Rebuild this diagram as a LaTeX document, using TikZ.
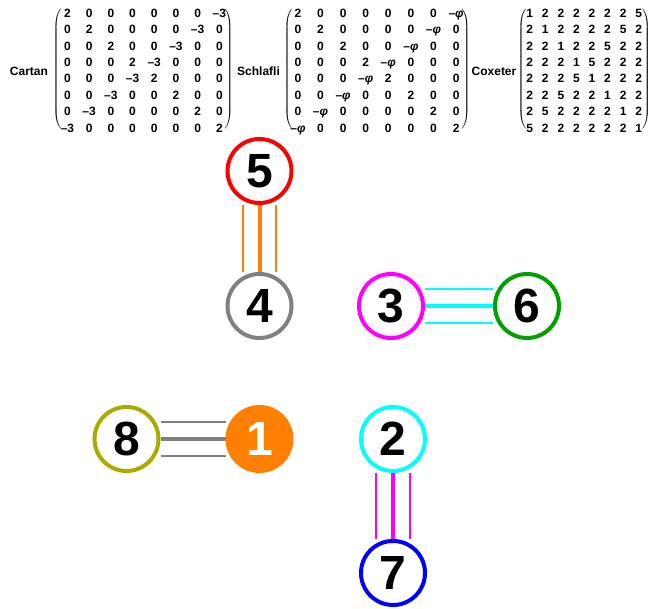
\documentclass[tikz,border=0pt]{standalone}
\usepackage{fontspec}
\setmainfont{Liberation Sans}
\usepackage{xcolor}
\usetikzlibrary{matrix}

\definecolor{nodeorange}{RGB}{255,128,0}
\definecolor{nodegrey}{RGB}{128,128,128}
\definecolor{nodegreen}{RGB}{0,160,0}
\definecolor{nodeolive}{RGB}{170,170,0}
\definecolor{nodecyan}{RGB}{0,255,255}
\definecolor{nodemagenta}{RGB}{255,0,255}
\definecolor{nodered}{RGB}{255,0,0}
\definecolor{nodeblue}{RGB}{0,0,255}

\newcommand{\lparen}{$\nulldelimiterspace=0pt\left(\vcenter{\hrule height 124pt width 0pt}\right.$}
\newcommand{\rparen}{$\nulldelimiterspace=0pt\left.\vcenter{\hrule height 124pt width 0pt}\right)$}

\tikzset{
  vertex/.style={draw, circle, line width=4pt, minimum size=64pt, inner sep=0pt, fill=white,
    font=\fontsize{48}{48}\selectfont\bfseries},
  bondthick/.style={line width=4pt},
  bondthin/.style={line width=1.8pt},
  dynmat/.style={matrix of nodes, inner sep=0pt, row sep=0pt, column sep=0pt,
    nodes={minimum height=16.4pt, inner sep=0pt, text height=8.6pt, text depth=0pt,
      font=\fontsize{12}{12}\selectfont\bfseries}},
  matlabel/.style={font=\fontsize{12}{12}\selectfont\bfseries, inner sep=0pt},
  bigparen/.style={inner sep=0pt, outer sep=0pt},
}

\begin{document}
\begin{tikzpicture}[x=1pt, y=1pt]
\useasboundingbox (0,0) rectangle (648,609);

% the three matrices
\node[matlabel] (cartanlabel) at (29,538) {Cartan};
\node[bigparen] (cartanl) at (57,539.5) {\lparen};
\matrix (cartan) [dynmat, nodes={minimum width=21.7pt}] at (143.4,538.5) {
2 & 0 & 0 & 0 & 0 & 0 & 0 & –3 \\
0 & 2 & 0 & 0 & 0 & 0 & –3 & 0 \\
0 & 0 & 2 & 0 & 0 & –3 & 0 & 0 \\
0 & 0 & 0 & 2 & –3 & 0 & 0 & 0 \\
0 & 0 & 0 & –3 & 2 & 0 & 0 & 0 \\
0 & 0 & –3 & 0 & 0 & 2 & 0 & 0 \\
0 & –3 & 0 & 0 & 0 & 0 & 2 & 0 \\
–3 & 0 & 0 & 0 & 0 & 0 & 0 & 2 \\
};
\node[bigparen] (cartanr) at (229,539.5) {\rparen};

\node[matlabel] (schlaflilabel) at (258.5,538) {Schlafli};
\node[bigparen] (schlaflil) at (288,539.5) {\lparen};
\matrix (schlafli) [dynmat, nodes={minimum width=22.6pt}] at (377,538.5) {
2 & 0 & 0 & 0 & 0 & 0 & 0 & –\textit{φ} \\
0 & 2 & 0 & 0 & 0 & 0 & –\textit{φ} & 0 \\
0 & 0 & 2 & 0 & 0 & –\textit{φ} & 0 & 0 \\
0 & 0 & 0 & 2 & –\textit{φ} & 0 & 0 & 0 \\
0 & 0 & 0 & –\textit{φ} & 2 & 0 & 0 & 0 \\
0 & 0 & –\textit{φ} & 0 & 0 & 2 & 0 & 0 \\
0 & –\textit{φ} & 0 & 0 & 0 & 0 & 2 & 0 \\
–\textit{φ} & 0 & 0 & 0 & 0 & 0 & 0 & 2 \\
};
\node[bigparen] (schlaflir) at (466,539.5) {\rparen};

\node[matlabel] (coxeterlabel) at (494,538) {Coxeter};
\node[bigparen] (coxeterl) at (522,539.5) {\lparen};
\matrix (coxeter) [dynmat, nodes={minimum width=15.57pt}] at (584.2,538.5) {
1 & 2 & 2 & 2 & 2 & 2 & 2 & 5 \\
2 & 1 & 2 & 2 & 2 & 2 & 5 & 2 \\
2 & 2 & 1 & 2 & 2 & 5 & 2 & 2 \\
2 & 2 & 2 & 1 & 5 & 2 & 2 & 2 \\
2 & 2 & 2 & 5 & 1 & 2 & 2 & 2 \\
2 & 2 & 5 & 2 & 2 & 1 & 2 & 2 \\
2 & 5 & 2 & 2 & 2 & 2 & 1 & 2 \\
5 & 2 & 2 & 2 & 2 & 2 & 2 & 1 \\
};
\node[bigparen] (coxeterr) at (646.5,539.5) {\rparen};

% the diagram
\node[vertex, draw=nodered] (v5) at (259.5,438) {5};
\node[vertex, draw=nodegrey] (v4) at (259.5,303) {4};
\node[vertex, draw=nodemagenta] (v3) at (391,303) {3};
\node[vertex, draw=nodegreen] (v6) at (527,303) {6};
\node[vertex, draw=nodeolive] (v8) at (126.5,170) {8};
\node[vertex, draw=nodeorange, fill=nodeorange, text=white] (v1) at (259.5,170) {1};
\node[vertex, draw=nodecyan] (v2) at (393,170) {2};
\node[vertex, draw=nodeblue] (v7) at (393,36) {7};

\draw[nodeorange, bondthick] (v5.south) -- (v4.north);
\draw[nodeorange, bondthin] ([xshift=-16.7pt]v5.south) -- ([xshift=-16.7pt]v4.north);
\draw[nodeorange, bondthin] ([xshift=16.7pt]v5.south) -- ([xshift=16.7pt]v4.north);

\draw[nodecyan, bondthick] (v3.east) -- (v6.west);
\draw[nodecyan, bondthin] ([yshift=16.7pt]v3.east) -- ([yshift=16.7pt]v6.west);
\draw[nodecyan, bondthin] ([yshift=-16.7pt]v3.east) -- ([yshift=-16.7pt]v6.west);

\draw[nodegrey, bondthick] (v8.east) -- (v1.west);
\draw[nodegrey, bondthin] ([yshift=16.7pt]v8.east) -- ([yshift=16.7pt]v1.west);
\draw[nodegrey, bondthin] ([yshift=-16.7pt]v8.east) -- ([yshift=-16.7pt]v1.west);

\draw[nodemagenta, bondthick] (v2.south) -- (v7.north);
\draw[nodemagenta, bondthin] ([xshift=-16.7pt]v2.south) -- ([xshift=-16.7pt]v7.north);
\draw[nodemagenta, bondthin] ([xshift=16.7pt]v2.south) -- ([xshift=16.7pt]v7.north);
\end{tikzpicture}
\end{document}
